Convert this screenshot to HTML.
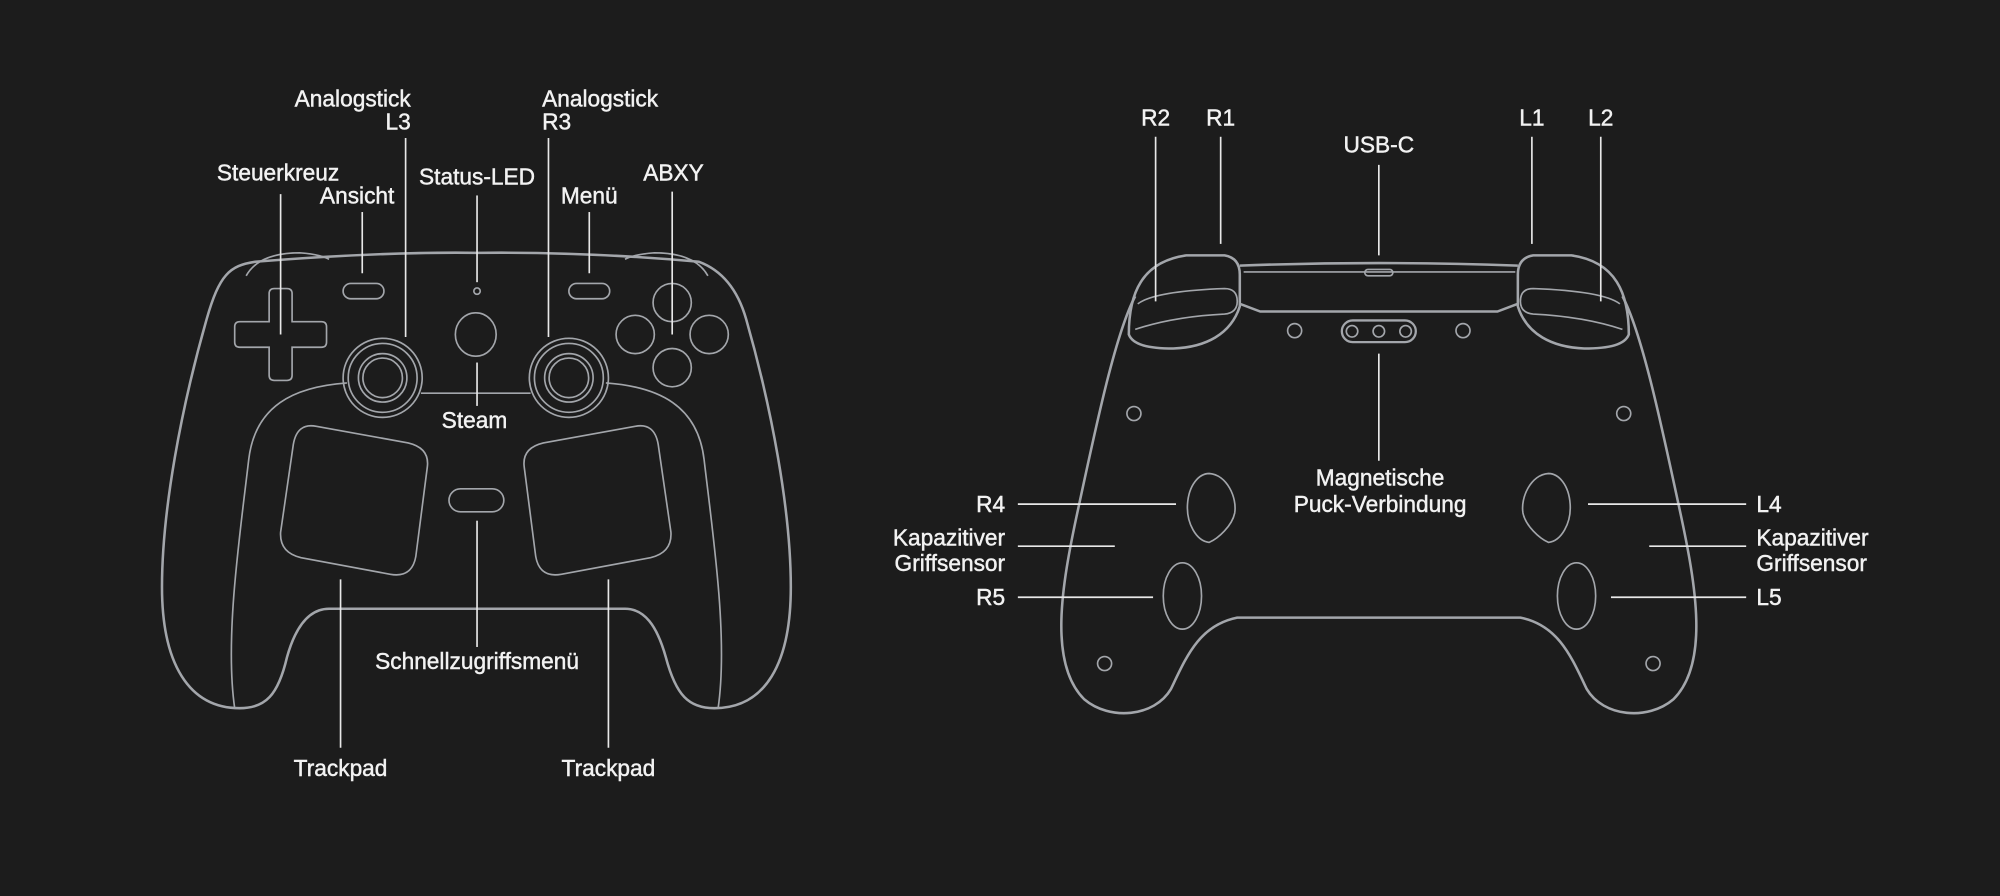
<!DOCTYPE html>
<html><head><meta charset="utf-8"><style>
html,body{margin:0;padding:0;background:#1c1c1c;}
svg{display:block}
text{font-family:"Liberation Sans",sans-serif;font-size:17.8px;fill:#f2f2f2;dominant-baseline:central;stroke:#f2f2f2;stroke-width:0.35}
.o{fill:none;stroke:#a3a6ab;stroke-width:2}
.i{fill:none;stroke:#a3a6ab;stroke-width:1.3}
.l{stroke:#e8e8e8;stroke-width:1.3;fill:none}
</style></head><body>
<svg width="2000" height="896" viewBox="0 0 1568 702" xmlns="http://www.w3.org/2000/svg">
<rect width="1568" height="702" fill="#1c1c1c"/>
<!-- FRONT -->
<path class="o" d="M200,205 Q300,197 374,198 Q460,197 548,205 Q575,215 585,250 C605,320 620,400 620,460 C620,520 600,555 560,555 C540,555 530,545 522,515 C515,490 505,477 490,477 L258,477 C243,477 232,490 225,515 C218,545 208,555 188,555 C148,555 127,520 127,460 C127,400 142,320 162,250 C172,215 180,208 200,205 Z"/>
<path class="i" d="M193,216 Q203,198 235,198 Q250,199 258,203"/>
<path class="i" d="M555,216 Q545,198 513,198 Q498,199 490,203"/>
<path class="i" d="M272,300 C230,303 200,318 195,360 C188,420 176,500 184,555"/>
<path class="i" d="M475,300 C517,303 547,318 552,360 C559,420 571,500 563,555"/>
<line class="i" x1="330" y1="308" x2="416" y2="308"/>
<g class="i">
<circle cx="300" cy="296" r="31"/><circle cx="300" cy="296" r="27"/><circle cx="300" cy="296" r="19"/><circle cx="300" cy="296" r="15.5"/>
<circle cx="446" cy="296" r="31"/><circle cx="446" cy="296" r="27"/><circle cx="446" cy="296" r="19"/><circle cx="446" cy="296" r="15.5"/>
<ellipse cx="373" cy="262" rx="16" ry="17"/>
<circle cx="374" cy="228" r="2.5"/>
<rect x="269" y="222" width="32" height="12" rx="6"/>
<rect x="446" y="222" width="32" height="12" rx="6"/>
<rect x="352" y="383" width="43" height="18" rx="9"/>
<circle cx="527" cy="237" r="15"/><circle cx="498" cy="262" r="15"/><circle cx="556" cy="262" r="15"/><circle cx="527" cy="288" r="15"/>
<path d="M211,230 Q211,226 215,226 L225,226 Q229,226 229,230 L229,252 L252,252 Q256,252 256,256 L256,268 Q256,272 252,272 L229,272 L229,294 Q229,298 225,298 L215,298 Q211,298 211,294 L211,272 L188,272 Q184,272 184,268 L184,256 Q184,252 188,252 L211,252 Z"/>
<path d="M248,334 L320,347 Q337,351 335,366 L326,436 Q323,453 306,450 L236,437 Q219,433 220,417 L230,348 Q233,331 248,334 Z"/>
<path d="M498,334 L426,347 Q409,351 411,366 L420,436 Q423,453 440,450 L510,437 Q527,433 526,417 L516,348 Q513,331 498,334 Z"/>
</g>
<g class="l">
<line x1="220" y1="152" x2="220" y2="262"/>
<line x1="284" y1="166" x2="284" y2="214"/>
<line x1="318" y1="108" x2="318" y2="264"/>
<line x1="374" y1="153" x2="374" y2="221"/>
<line x1="430" y1="108" x2="430" y2="264"/>
<line x1="462" y1="166" x2="462" y2="214"/>
<line x1="527" y1="150" x2="527" y2="262"/>
<line x1="374" y1="284" x2="374" y2="318"/>
<line x1="374" y1="408" x2="374" y2="507"/>
<line x1="267" y1="454" x2="267" y2="586"/>
<line x1="477" y1="454" x2="477" y2="586"/>
</g>
<text x="218" y="135" text-anchor="middle">Steuerkreuz</text>
<text x="280" y="153" text-anchor="middle">Ansicht</text>
<text x="322" y="77" text-anchor="end">Analogstick</text>
<text x="322" y="95" text-anchor="end">L3</text>
<text x="374" y="138" text-anchor="middle">Status-LED</text>
<text x="425" y="77">Analogstick</text>
<text x="425" y="95">R3</text>
<text x="462" y="153" text-anchor="middle">Menü</text>
<text x="528" y="135" text-anchor="middle">ABXY</text>
<text x="372" y="329" text-anchor="middle">Steam</text>
<text x="374" y="518" text-anchor="middle">Schnellzugriffsmenü</text>
<text x="267" y="602" text-anchor="middle">Trackpad</text>
<text x="477" y="602" text-anchor="middle">Trackpad</text>
<!-- BACK -->
<path class="o" d="M890,232 C875,260 860,330 845,400 C832,460 822,520 850,548 C870,565 905,562 918,540 C930,515 940,490 970,484 L1192,484 C1222,490 1232,515 1244,540 C1257,562 1292,565 1312,548 C1340,520 1330,460 1317,400 C1302,330 1287,260 1272,232"/>
<path class="o" d="M885,262 C885,230 895,205 930,200 L960,200 Q972,202 972,215 L972,240 C965,262 945,272 920,273 C900,273 888,270 885,262 Z"/>
<path class="o" d="M1277,262 C1277,230 1267,205 1232,200 L1202,200 Q1190,202 1190,215 L1190,240 C1197,262 1217,272 1242,273 C1262,273 1274,270 1277,262 Z"/>
<path class="i" d="M892,238 Q905,228 960,226 Q970,226 970,236 Q970,245 960,246 Q920,248 890,258"/>
<path class="i" d="M1270,238 Q1257,228 1202,226 Q1192,226 1192,236 Q1192,245 1202,246 Q1242,248 1272,258"/>
<path class="o" d="M972,208 Q1081,204 1190,208"/>
<line class="i" x1="975" y1="213" x2="1188" y2="213"/>
<rect class="i" x="1070" y="211" width="22" height="5" rx="2.5"/>
<path class="o" d="M972,238 L988,244 L1174,244 L1190,238"/>
<g class="i">
<circle cx="1015" cy="259" r="5.5"/><circle cx="1147" cy="259" r="5.5"/>
<rect x="1052" y="251" width="58" height="17" rx="8.5" stroke-width="1.8"/>
<circle cx="1060" cy="259.5" r="4.5"/><circle cx="1081" cy="259.5" r="4.5"/><circle cx="1102" cy="259.5" r="4.5"/>
<circle cx="889" cy="324" r="5.5"/><circle cx="1273" cy="324" r="5.5"/>
<circle cx="866" cy="520" r="5.5"/><circle cx="1296" cy="520" r="5.5"/>
<path d="M948,371 C962,372 970,390 968,402 C966,412 955,422 948,425 C938,424 930,410 931,395 C932,380 940,371 948,371 Z"/>
<path d="M1214,371 C1200,372 1192,390 1194,402 C1196,412 1207,422 1214,425 C1224,424 1232,410 1231,395 C1230,380 1222,371 1214,371 Z"/>
<ellipse cx="927" cy="467" rx="15" ry="26"/>
<ellipse cx="1236" cy="467" rx="15" ry="26"/>
</g>
<g class="l">
<line x1="906" y1="107" x2="906" y2="236"/>
<line x1="957" y1="107" x2="957" y2="191"/>
<line x1="1081" y1="129" x2="1081" y2="200"/>
<line x1="1201" y1="107" x2="1201" y2="191"/>
<line x1="1255" y1="107" x2="1255" y2="236"/>
<line x1="1081" y1="277" x2="1081" y2="361"/>
<line x1="798" y1="395" x2="922" y2="395"/>
<line x1="798" y1="428" x2="874" y2="428"/>
<line x1="798" y1="468" x2="904" y2="468"/>
<line x1="1245" y1="395" x2="1369" y2="395"/>
<line x1="1293" y1="428" x2="1369" y2="428"/>
<line x1="1263" y1="468" x2="1369" y2="468"/>
</g>
<text x="906" y="92" text-anchor="middle">R2</text>
<text x="957" y="92" text-anchor="middle">R1</text>
<text x="1081" y="113" text-anchor="middle">USB-C</text>
<text x="1201" y="92" text-anchor="middle">L1</text>
<text x="1255" y="92" text-anchor="middle">L2</text>
<text x="1082" y="374" text-anchor="middle">Magnetische</text>
<text x="1082" y="395" text-anchor="middle">Puck-Verbindung</text>
<text x="788" y="395" text-anchor="end">R4</text>
<text x="788" y="421" text-anchor="end">Kapazitiver</text>
<text x="788" y="441" text-anchor="end">Griffsensor</text>
<text x="788" y="468" text-anchor="end">R5</text>
<text x="1377" y="395">L4</text>
<text x="1377" y="421">Kapazitiver</text>
<text x="1377" y="441">Griffsensor</text>
<text x="1377" y="468">L5</text>
</svg>
</body></html>
